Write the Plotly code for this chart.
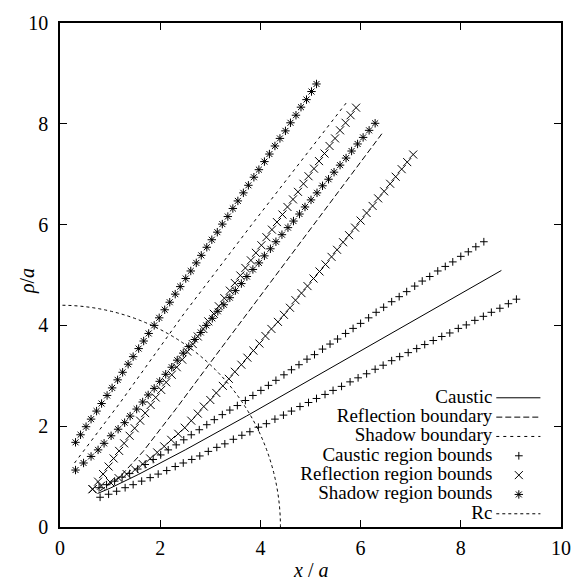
import plotly.graph_objects as go

# ---------------- data ----------------
caustic_x = [0.75, 1.00, 1.57, 2.50, 3.72, 4.60, 5.61, 7.00, 8.81]
caustic_y = [0.665, 0.77, 1.045, 1.53, 2.20, 2.70, 3.27, 4.06, 5.09]

refl_boundary_x = [0.80, 1.20, 1.66, 2.32, 3.00, 3.72, 4.96, 6.46]
refl_boundary_y = [0.72, 1.00, 1.50, 2.35, 3.26, 4.21, 5.87, 7.85]

shadow_boundary_x = [0.29, 1.21, 2.48, 3.82, 5.71]
shadow_boundary_y = [1.27, 2.48, 4.24, 5.99, 8.41]

caustic_up_x = [0.78, 0.93, 1.09, 1.24, 1.39, 1.55, 1.70, 1.86, 2.01, 2.16, 2.32, 2.47, 2.62, 2.78, 2.93, 3.08,
                3.24, 3.39, 3.54, 3.70, 3.85, 4.01, 4.16, 4.31, 4.47, 4.62, 4.77, 4.93, 5.08, 5.24, 5.39, 5.54,
                5.70, 5.85, 6.00, 6.16, 6.31, 6.46, 6.62, 6.77, 6.92, 7.08, 7.23, 7.38, 7.54, 7.69, 7.84, 8.00,
                8.15, 8.30, 8.46]
caustic_up_y = [0.78, 0.84, 0.91, 0.99, 1.06, 1.15, 1.24, 1.34, 1.43, 1.53, 1.63, 1.73, 1.83, 1.93, 2.03, 2.13,
                2.23, 2.32, 2.41, 2.51, 2.61, 2.71, 2.81, 2.91, 3.02, 3.12, 3.22, 3.33, 3.42, 3.53, 3.63, 3.73,
                3.84, 3.94, 4.04, 4.15, 4.26, 4.36, 4.47, 4.57, 4.67, 4.78, 4.88, 4.97, 5.08, 5.17, 5.26, 5.37,
                5.46, 5.56, 5.66]

caustic_lo_x = [0.80, 0.97, 1.13, 1.30, 1.46, 1.63, 1.80, 1.96, 2.13, 2.30, 2.46, 2.63, 2.79, 2.96, 3.13, 3.29,
                3.46, 3.63, 3.79, 3.96, 4.12, 4.29, 4.46, 4.62, 4.79, 4.96, 5.12, 5.29, 5.45, 5.62, 5.79, 5.95,
                6.12, 6.29, 6.45, 6.62, 6.78, 6.95, 7.12, 7.28, 7.45, 7.62, 7.78, 7.95, 8.11, 8.28, 8.45, 8.61,
                8.78, 8.95, 9.11]
caustic_lo_y = [0.59, 0.65, 0.71, 0.78, 0.84, 0.91, 0.98, 1.05, 1.12, 1.20, 1.27, 1.34, 1.41, 1.50, 1.58, 1.65,
                1.74, 1.82, 1.89, 1.98, 2.05, 2.14, 2.22, 2.30, 2.39, 2.47, 2.55, 2.63, 2.71, 2.79, 2.88, 2.96,
                3.04, 3.13, 3.21, 3.30, 3.38, 3.46, 3.54, 3.62, 3.70, 3.78, 3.85, 3.94, 4.01, 4.10, 4.18, 4.26,
                4.34, 4.43, 4.52]

refl_up_x = [0.65, 0.76, 0.86, 0.97, 1.07, 1.18, 1.28, 1.39, 1.49, 1.60, 1.70, 1.81, 1.91, 2.02, 2.12, 2.23,
             2.33, 2.44, 2.54, 2.65, 2.75, 2.86, 2.96, 3.07, 3.17, 3.28, 3.39, 3.49, 3.60, 3.70, 3.81, 3.91,
             4.02, 4.12, 4.23, 4.33, 4.44, 4.54, 4.65, 4.75, 4.86, 4.96, 5.07, 5.17, 5.28, 5.38, 5.49, 5.59,
             5.70, 5.80, 5.91]
refl_up_y = [0.75, 0.90, 1.05, 1.20, 1.36, 1.51, 1.66, 1.81, 1.96, 2.11, 2.26, 2.42, 2.57, 2.72, 2.87, 3.02,
             3.17, 3.32, 3.48, 3.63, 3.78, 3.93, 4.08, 4.23, 4.38, 4.54, 4.69, 4.84, 4.99, 5.14, 5.29, 5.44,
             5.59, 5.75, 5.90, 6.05, 6.20, 6.35, 6.50, 6.65, 6.81, 6.96, 7.11, 7.26, 7.41, 7.56, 7.71, 7.87,
             8.02, 8.17, 8.32]

refl_lo_x = [0.65, 0.82, 1.00, 1.17, 1.33, 1.50, 1.65, 1.80, 1.94, 2.08, 2.22, 2.36, 2.49, 2.62, 2.75, 2.87,
             3.00, 3.12, 3.25, 3.37, 3.49, 3.62, 3.74, 3.86, 3.98, 4.10, 4.22, 4.35, 4.47, 4.59, 4.70, 4.82,
             4.94, 5.06, 5.18, 5.30, 5.42, 5.53, 5.65, 5.77, 5.89, 6.00, 6.12, 6.24, 6.35, 6.47, 6.59, 6.70,
             6.82, 6.93, 7.05]
refl_lo_y = [0.75, 0.82, 0.89, 0.97, 1.05, 1.14, 1.25, 1.36, 1.48, 1.60, 1.73, 1.85, 1.97, 2.11, 2.25, 2.39,
             2.52, 2.66, 2.80, 2.94, 3.08, 3.22, 3.36, 3.50, 3.64, 3.79, 3.93, 4.07, 4.21, 4.35, 4.50, 4.64,
             4.78, 4.93, 5.07, 5.21, 5.36, 5.50, 5.65, 5.79, 5.94, 6.08, 6.23, 6.37, 6.52, 6.66, 6.81, 6.95,
             7.10, 7.24, 7.39]

shadow_up_x = [0.31, 0.41, 0.52, 0.62, 0.73, 0.83, 0.94, 1.04, 1.15, 1.25, 1.36, 1.46, 1.57, 1.67, 1.77, 1.88,
               1.98, 2.09, 2.19, 2.30, 2.40, 2.51, 2.61, 2.72, 2.82, 2.93, 3.03, 3.14, 3.24, 3.35, 3.45, 3.55,
               3.66, 3.76, 3.87, 3.97, 4.08, 4.18, 4.29, 4.39, 4.50, 4.60, 4.71, 4.81, 4.92, 5.02, 5.12]
shadow_up_y = [1.68, 1.83, 1.99, 2.14, 2.30, 2.45, 2.61, 2.76, 2.92, 3.07, 3.23, 3.38, 3.54, 3.69, 3.84, 4.00,
               4.15, 4.31, 4.46, 4.62, 4.77, 4.93, 5.08, 5.24, 5.39, 5.55, 5.70, 5.85, 6.01, 6.16, 6.32, 6.47,
               6.63, 6.78, 6.94, 7.09, 7.25, 7.40, 7.56, 7.71, 7.86, 8.02, 8.17, 8.33, 8.48, 8.64, 8.79]

shadow_lo_x = [0.31, 0.47, 0.62, 0.76, 0.88, 1.02, 1.16, 1.29, 1.40, 1.53, 1.65, 1.76, 1.88, 1.99, 2.11, 2.23,
               2.34, 2.46, 2.57, 2.69, 2.81, 2.92, 3.04, 3.15, 3.27, 3.39, 3.50, 3.62, 3.73, 3.85, 3.97, 4.08,
               4.20, 4.31, 4.43, 4.55, 4.66, 4.78, 4.89, 5.01, 5.13, 5.24, 5.36, 5.47, 5.59, 5.71, 5.82, 5.94,
               6.05, 6.17, 6.29]
shadow_lo_y = [1.13, 1.27, 1.40, 1.53, 1.66, 1.81, 1.94, 2.07, 2.20, 2.34, 2.48, 2.62, 2.75, 2.89, 3.03, 3.17,
               3.31, 3.45, 3.58, 3.72, 3.86, 4.00, 4.14, 4.28, 4.41, 4.55, 4.69, 4.83, 4.97, 5.11, 5.24, 5.38,
               5.52, 5.66, 5.80, 5.94, 6.07, 6.21, 6.35, 6.49, 6.63, 6.77, 6.90, 7.04, 7.18, 7.32, 7.46, 7.60,
               7.73, 7.87, 8.01]

rc_radius = 4.4

axis_ticks = [0, 2, 4, 6, 8, 10]
legend_labels = ["Caustic", "Reflection boundary", "Shadow boundary", "Caustic region bounds",
                 "Reflection region bounds", "Shadow region bounds", "Rc"]

# ---------------- styling / layout constants ----------------
W = H = 583
ML, MR, MT, MB = 60, 12, 16, 56
FONT = "Liberation Serif, Times New Roman, Times, DejaVu Serif, serif"
BLACK = "black"
DASH_REFL = "6px,3px"
DASH_SHAD = "3px,4px"
DASH_RC = "3px,3px"

fig = go.Figure()

def line_trace(x, y, dash):
    fig.add_trace(go.Scatter(x=x, y=y, mode="lines", showlegend=False, hoverinfo="skip",
                             line=dict(color=BLACK, width=1, dash=dash)))

def marker_trace(x, y, symbol, size):
    fig.add_trace(go.Scatter(x=x, y=y, mode="markers", showlegend=False, hoverinfo="skip",
                             marker=dict(symbol=symbol, size=size, color=BLACK,
                                         line=dict(color=BLACK, width=1))))

line_trace(caustic_x, caustic_y, "solid")
line_trace(refl_boundary_x, refl_boundary_y, DASH_REFL)
line_trace(shadow_boundary_x, shadow_boundary_y, DASH_SHAD)
marker_trace(caustic_up_x, caustic_up_y, "cross-thin", 5.5)
marker_trace(caustic_lo_x, caustic_lo_y, "cross-thin", 5.5)
marker_trace(refl_up_x, refl_up_y, "x-thin", 8)
marker_trace(refl_lo_x, refl_lo_y, "x-thin", 8)
marker_trace(shadow_up_x, shadow_up_y, "asterisk", 7)
marker_trace(shadow_lo_x, shadow_lo_y, "asterisk", 7)

# Rc: quarter circle of radius rc_radius about the origin, drawn in data coordinates
fig.add_shape(type="circle", xref="x", yref="y", x0=-rc_radius, y0=-rc_radius, x1=rc_radius, y1=rc_radius,
              line=dict(color=BLACK, width=1, dash=DASH_RC), layer="above")

# ---------------- manual gnuplot-style legend (pixel overlay axes) ----------------
leg_y0, leg_dy = 396, 19.6
leg_text_x, key_x0, key_x1, key_xm = 501, 505, 550, 528
rows = [leg_y0 + leg_dy * i for i in range(len(legend_labels))]

fig.add_trace(go.Scatter(x=[leg_text_x] * len(rows), y=rows, mode="text", text=legend_labels,
                         textposition="middle left", xaxis="x2", yaxis="y2", showlegend=False,
                         hoverinfo="skip", textfont=dict(family=FONT, size=19, color=BLACK)))

def key_line(row, dash):
    fig.add_trace(go.Scatter(x=[key_x0, key_x1], y=[rows[row]] * 2, mode="lines", xaxis="x2", yaxis="y2",
                             showlegend=False, hoverinfo="skip", line=dict(color=BLACK, width=1, dash=dash)))

def key_marker(row, symbol, size):
    fig.add_trace(go.Scatter(x=[key_xm], y=[rows[row]], mode="markers", xaxis="x2", yaxis="y2",
                             showlegend=False, hoverinfo="skip",
                             marker=dict(symbol=symbol, size=size, color=BLACK, line=dict(color=BLACK, width=1))))

key_line(0, "solid")
key_line(1, DASH_REFL)
key_line(2, DASH_SHAD)
key_marker(3, "cross-thin", 5.5)
key_marker(4, "x-thin", 8)
key_marker(5, "asterisk", 7)
key_line(6, DASH_RC)

axis_common = dict(range=[0, 10], tickvals=axis_ticks, ticktext=[str(t) for t in axis_ticks],
                   ticks="inside", ticklen=7, tickwidth=1, tickcolor=BLACK,
                   showline=True, linecolor=BLACK, linewidth=1.5, mirror="allticks",
                   showgrid=False, zeroline=False,
                   tickfont=dict(family=FONT, size=20, color=BLACK))

fig.update_layout(
    width=W, height=H,
    margin=dict(l=ML, r=MR, t=MT, b=MB, pad=0),
    paper_bgcolor="white", plot_bgcolor="white",
    showlegend=False,
    font=dict(family=FONT, color=BLACK),
    xaxis=dict(**axis_common, ticklabelstandoff=2),
    yaxis=dict(**axis_common, ticklabelstandoff=6),
    xaxis2=dict(overlaying="x", anchor="y2", range=[ML, W - MR], visible=False, fixedrange=True),
    yaxis2=dict(overlaying="y", anchor="x2", range=[H - MB, MT], visible=False, fixedrange=True),
    annotations=[
        dict(text="<i>x</i> / <i>a</i>", xref="paper", yref="paper", x=(315 - ML) / (W - ML - MR),
             y=-(571 - (H - MB)) / (H - MT - MB), xanchor="center", yanchor="middle", showarrow=False,
             font=dict(family=FONT, size=20, color=BLACK)),
        dict(text="<i>ρ</i>/<i>a</i>", xref="paper", yref="paper", x=-(ML - 27) / (W - ML - MR),
             y=((H - MB) - 278) / (H - MT - MB), xanchor="center", yanchor="middle", textangle=-90,
             showarrow=False, font=dict(family=FONT, size=20, color=BLACK)),
    ],
)

fig.write_html("out.html")
